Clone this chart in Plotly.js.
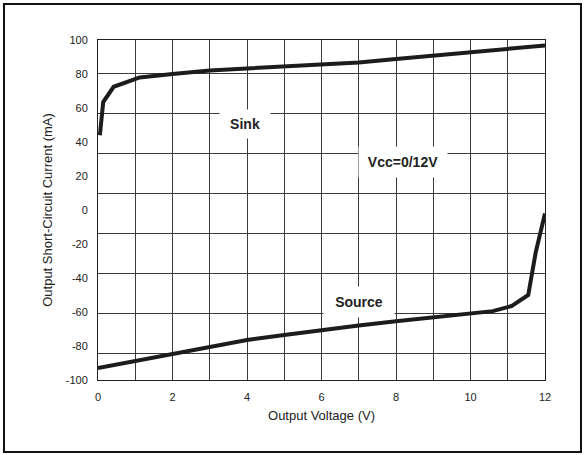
<!DOCTYPE html>
<html>
<head>
<meta charset="utf-8">
<script src="https://cdn.plot.ly/plotly-3.0.1.min.js"></script>
<style>
html,body{margin:0;padding:0;background:#fff;}
#chart{width:584px;height:455px;}
</style>
</head>
<body>
<div id="chart"></div>
<script>
// Sink curve (Output Voltage V, Output Short-Circuit Current mA)
var sinkV = [0.05, 0.14, 0.42, 1.12, 2, 3, 4, 5, 6, 7, 8, 9, 10, 11, 12];
var sinkI = [44, 63.5, 72.5, 78, 80, 82, 83.3, 84.3, 85.3, 86.8, 88.8, 90.8, 92.8, 94.8, 96.8];
// Source curve
var sourceV = [0, 1, 2, 3, 4, 5, 6, 7, 8, 9, 10, 10.6, 11.1, 11.55, 11.75, 12];
var sourceI = [-93, -89, -85, -80.5, -76.5, -73.5, -70.5, -68, -65.5, -63, -61, -59.5, -56.5, -50, -25, -2];
// Tick labels
var xTickVals = [0, 2, 4, 6, 8, 10, 12];
var xTickText = ['0', '2', '4', '6', '8', '10', '12'];
var yTickVals = [100, 80, 60, 40, 20, 0, -20, -40, -60, -80, -100];
var yTickText = ['100', '80', '60', '40', '20', '0', '-20', '-40', '-60', '-80', '-100'];
// Labels
var sinkLabel = 'Sink';
var sourceLabel = 'Source';
var condLabel = 'Vcc=0/12V';

var lineStyle = {color: '#1c1c1c', width: 4};
var traces = [
  {x: sinkV, y: sinkI, type: 'scatter', mode: 'lines', line: lineStyle, name: sinkLabel, hoverinfo: 'skip'},
  {x: sourceV, y: sourceI, type: 'scatter', mode: 'lines', line: lineStyle, name: sourceLabel, hoverinfo: 'skip'}
];

var gridColor = '#3a3a3a';
var fontFam = '"Liberation Sans", Arial, sans-serif';

var layout = {
  width: 584, height: 455,
  margin: {l: 98, r: 39, t: 40, b: 75, pad: 0},
  paper_bgcolor: '#fff', plot_bgcolor: '#fff',
  showlegend: false,
  font: {family: fontFam, color: '#222', size: 11},
  xaxis: {
    range: [0, 12], fixedrange: true,
    tickmode: 'array', tickvals: xTickVals, ticktext: xTickText,
    showgrid: true, gridcolor: gridColor, gridwidth: 1,
    minor: {dtick: 1, showgrid: true, gridcolor: gridColor, gridwidth: 1},
    zeroline: false,
    showline: true, mirror: true, linecolor: '#222', linewidth: 1,
    ticks: '', ticklabelstandoff: 7,
    tickfont: {size: 11, color: '#222', family: fontFam},
    title: {text: 'Output Voltage (V)', font: {size: 13, color: '#222', family: fontFam}, standoff: 8}
  },
  yaxis: {
    range: [-100, 100], fixedrange: true,
    tickmode: 'array', tickvals: yTickVals, ticktext: yTickText,
    showgrid: false,
    minor: {tick0: 80.4, dtick: 23.53, showgrid: true, gridcolor: gridColor, gridwidth: 1},
    zeroline: false,
    showline: true, mirror: true, linecolor: '#222', linewidth: 1,
    ticks: '', ticklabelstandoff: 7,
    tickfont: {size: 11, color: '#222', family: fontFam},
    title: {text: 'Output Short-Circuit Current (mA)', font: {size: 13, color: '#222', family: fontFam}, standoff: 10}
  },
  annotations: [
    {x: 3.95, y: 50.5, xref: 'x', yref: 'y', text: '<b>' + sinkLabel + '</b>', showarrow: false,
     font: {size: 14, color: '#222', family: fontFam}, bgcolor: '#fff', width: 48, height: 26, borderpad: 1},
    {x: 8.2, y: 28.5, xref: 'x', yref: 'y', text: '<b>' + condLabel + '</b>', showarrow: false,
     font: {size: 14, color: '#222', family: fontFam}, bgcolor: '#fff', width: 86, height: 28, borderpad: 1},
    {x: 7.0, y: -54.2, xref: 'x', yref: 'y', text: '<b>' + sourceLabel + '</b>', showarrow: false,
     font: {size: 14, color: '#222', family: fontFam}, bgcolor: '#fff', width: 68, height: 28, borderpad: 1}
  ],
  shapes: [
    {type: 'rect', xref: 'paper', yref: 'paper', x0: -0.2103, x1: 1.0805, y0: -0.2118, y1: 1.1059,
     line: {color: '#111', width: 2}, fillcolor: 'rgba(0,0,0,0)', layer: 'above'}
  ]
};

Plotly.newPlot('chart', traces, layout, {displayModeBar: false, staticPlot: true});
</script>
</body>
</html>
